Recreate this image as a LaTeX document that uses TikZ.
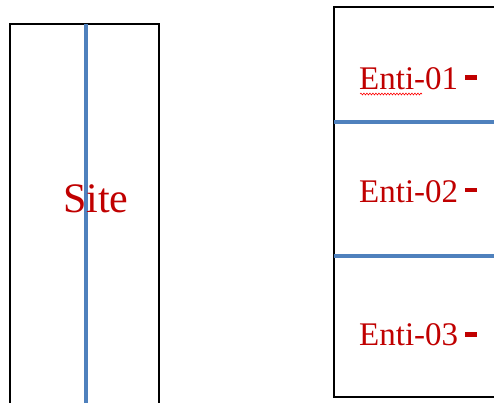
\documentclass[tikz,border=0pt]{standalone}
\usepackage{fontspec}
\setmainfont{Liberation Serif}
\usetikzlibrary{decorations.pathmorphing}
\definecolor{lblue}{HTML}{4F81BD}
\definecolor{tred}{HTML}{C00000}
\tikzset{
  frame/.style={draw=black, line width=2.8pt},
  divider/.style={draw=lblue, line width=4pt},
  lbl/.style={text=tred, anchor=base west, inner sep=0pt, font=\fontsize{33}{39}\selectfont},
  redtick/.style={fill=tred, draw=none},
  squiggle/.style={draw=red, line width=0.6pt, decorate, decoration={snake, amplitude=0.9pt, segment length=3pt}}
}
\begin{document}
\begin{tikzpicture}[x=1pt,y=-1pt]
\useasboundingbox (0,0) rectangle (494,402);
\path[clip] (0,0) rectangle (494,402);
% left box
\draw[frame] (10,24) rectangle (159,420);
\coordinate (vtop) at (86,24);
\coordinate (vbot) at (86,410);
\draw[divider] (vtop) -- (vbot);
\node[lbl, font=\fontsize{42}{50}\selectfont] (site) at (63,212) {Site};
% right box
\draw[frame] (334,7) rectangle (510,397);
\coordinate (h1a) at (334,122);
\coordinate (h1b) at (500,122);
\coordinate (h2a) at (334,256);
\coordinate (h2b) at (500,256);
\draw[divider] (h1a) -- (h1b);
\draw[divider] (h2a) -- (h2b);
\node[lbl] (e1) at (359,89) {Enti-01};
\node[lbl] (e2) at (359,202) {Enti-02};
\node[lbl] (e3) at (359,345) {Enti-03};
\fill[redtick] (465,75) rectangle (477,79.5);
\fill[redtick] (465,187.5) rectangle (477,192);
\fill[redtick] (465,332) rectangle (477,336.5);
\draw[squiggle] (360,94) -- (422,94);
\end{tikzpicture}
\end{document}
